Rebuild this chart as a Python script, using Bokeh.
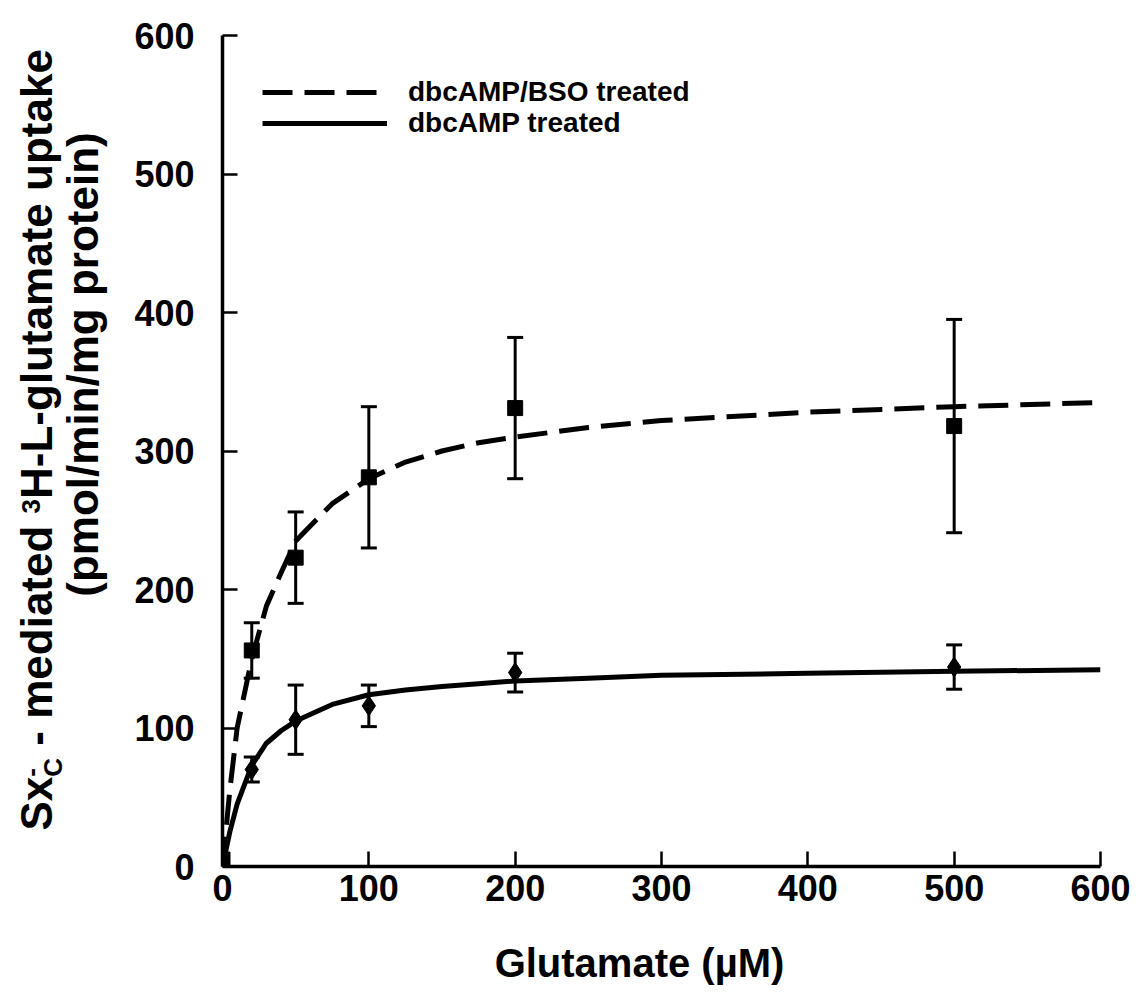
import math
from bokeh.plotting import figure
from bokeh.layouts import row, column
from bokeh.models import (Range1d, ColumnDataSource, Whisker, TeeHead, Label,
                          Legend, LegendItem, FixedTicker)
from bokeh.embed import file_html
from bokeh.resources import INLINE

# ---------------- data ----------------
concentration = [0, 20, 50, 100, 200, 500]            # Glutamate (uM)
bso_uptake = [5, 156, 223, 281, 331, 318]              # dbcAMP/BSO treated
bso_sem = [0, 20, 33, 51, 51, 77]
dbc_uptake = [5, 70, 106, 116, 140, 144]               # dbcAMP treated
dbc_sem = [0, 9, 25, 15, 14, 16]

fit_x = [0, 5, 10, 20, 30, 40, 50, 75, 100, 125, 150, 175, 200, 250, 300, 400, 500, 600]
bso_fit = [0, 55, 100, 150, 188, 212, 235, 262, 280, 292, 300, 306, 310, 317, 322, 328, 332, 335]
dbc_fit = [0, 25, 45, 73, 89, 98, 105, 117, 124, 127.5, 130, 132, 134, 136, 138, 139.5, 141, 142]

x_ticks = [0, 100, 200, 300, 400, 500, 600]
y_ticks = [0, 100, 200, 300, 400, 500, 600]

legend_labels = ["dbcAMP/BSO treated", "dbcAMP treated"]
x_title = "Glutamate (\u00b5M)"
y_title_line2 = "(pmol/min/mg protein)"

# ---------------- layout constants ----------------
W, H = 1143, 992
YLAB_W = 120          # strip holding the y title
XLAB_H = 70           # strip holding the x title
MAIN_W, MAIN_H = W - YLAB_W, H - XLAB_H
FRAME_L, FRAME_R, FRAME_T, FRAME_B = 222, 1100, 35, 866   # canvas pixels
FONT = "Liberation Sans"


def text_strip(w, h, x_lo, x_hi, y_top, y_bottom):
    """A bare figure whose data space equals canvas pixels (y downward)."""
    f = figure(width=w, height=h, x_range=Range1d(x_lo, x_hi),
               y_range=Range1d(y_bottom, y_top), output_backend="svg",
               toolbar_location=None, x_axis_location=None, y_axis_location=None,
               min_border=0, min_border_left=0, min_border_right=0,
               min_border_top=0, min_border_bottom=0)
    f.grid.visible = False
    f.outline_line_color = None
    f.background_fill_color = "white"
    f.border_fill_color = "white"
    return f


# ---------------- main plot ----------------
p = figure(width=MAIN_W, height=MAIN_H, x_range=Range1d(0, 600), y_range=Range1d(0, 600),
           output_backend="svg", toolbar_location=None,
           min_border_left=FRAME_L - YLAB_W, min_border_right=W - FRAME_R,
           min_border_top=FRAME_T, min_border_bottom=MAIN_H - FRAME_B)
p.background_fill_color = "white"
p.border_fill_color = "white"
p.outline_line_color = None
p.grid.visible = False

for ax in (p.xaxis[0], p.yaxis[0]):
    ax.axis_line_width = 3.5
    ax.axis_line_color = "black"
    ax.major_tick_in = 15
    ax.major_tick_out = 0
    ax.major_tick_line_width = 2.5
    ax.major_tick_line_color = "black"
    ax.minor_tick_line_color = None
    ax.major_label_text_font = FONT
    ax.major_label_text_font_style = "bold"
    ax.major_label_text_font_size = "36px"
    ax.major_label_text_color = "black"

p.xaxis.ticker = FixedTicker(ticks=x_ticks)
p.yaxis.ticker = FixedTicker(ticks=y_ticks)
p.xaxis.major_label_standoff = 8
p.yaxis.major_label_standoff = 28

# fitted curves
fit_src = ColumnDataSource(dict(x=fit_x, bso=bso_fit, dbc=dbc_fit))
r_bso = p.line("x", "bso", source=fit_src, line_color="black", line_width=5,
               line_dash="30 12")
r_dbc = p.line("x", "dbc", source=fit_src, line_color="black", line_width=5)


# error bars
def err_source(xs, ys, es):
    xx, lo, hi = [], [], []
    for x, y, e in zip(xs, ys, es):
        if e > 0:
            xx.append(x)
            lo.append(y - e)
            hi.append(y + e)
    return ColumnDataSource(dict(x=xx, lower=lo, upper=hi))


for src in (err_source(concentration, bso_uptake, bso_sem),
            err_source(concentration, dbc_uptake, dbc_sem)):
    p.add_layout(Whisker(base="x", lower="lower", upper="upper", source=src,
                         line_color="black", line_width=3,
                         upper_head=TeeHead(size=16, line_width=3, line_color="black"),
                         lower_head=TeeHead(size=16, line_width=3, line_color="black")))

# markers
pts = ColumnDataSource(dict(x=concentration, bso=bso_uptake, dbc=dbc_uptake))
p.scatter("x", "bso", source=pts, marker="square", size=15,
          fill_color="black", line_color="black")
p.scatter("x", "dbc", source=pts, marker="diamond", size=20,
          fill_color="black", line_color="black")


# legend: one box per entry so the two rows can sit close together
def make_legend(label, renderer, loc):
    return Legend(items=[LegendItem(label=label, renderers=[renderer])],
                  location=loc, glyph_width=125, glyph_height=24,
                  label_height=24, label_standoff=21, spacing=0, padding=0,
                  margin=0, border_line_color=None, background_fill_alpha=0,
                  label_text_font=FONT, label_text_font_style="bold",
                  label_text_font_size="28px", label_text_color="black")


p.add_layout(make_legend(legend_labels[0], r_bso, (40, 758)))
p.add_layout(make_legend(legend_labels[1], r_dbc, (40, 727)))

# ---------------- y title strip ----------------
# its frame is aligned with the main frame (canvas y 35..866)
ylab = text_strip(YLAB_W, MAIN_H, 0, YLAB_W, FRAME_T, FRAME_B)
BIG, SMALL = 44, 26
MID = 0.3465          # baseline -> middle of the text box, in em
ang = math.pi / 2
base1 = 51
start = 830.0
w_sx = 1.223 * BIG
w_c = 0.722 * SMALL
w_sp = 0.278 * BIG
w_med = (0.333 + 0.278 + 4.390) * BIG
w_3 = 0.556 * SMALL
w_rest = 10.223 * BIG
s_c = start - w_sx
s_med = s_c - w_c - w_sp
s_3 = s_med - w_med - w_sp
s_rest = s_3 - w_3
pieces = [("Sx", BIG, base1, start - w_sx / 2),
          ("C", SMALL, base1 + 11, s_c - w_c / 2),
          ("-", SMALL, 40, s_c - 0.333 * SMALL / 2),
          ("- mediated", BIG, base1, s_med - w_med / 2),
          ("3", SMALL, 40, s_3 - w_3 / 2),
          ("H-L-glutamate uptake", BIG, base1, s_rest - w_rest / 2)]
for txt, size, bx, cy in pieces:
    ylab.add_layout(Label(x=bx - MID * size, y=cy, text=txt, angle=ang,
                          text_align="center", text_baseline="middle",
                          text_font=FONT, text_font_style="bold",
                          text_font_size=f"{size}px", text_color="black"))
ylab.add_layout(Label(x=97 - MID * BIG, y=364, text=y_title_line2, angle=ang,
                      text_align="center", text_baseline="middle",
                      text_font=FONT, text_font_style="bold",
                      text_font_size=f"{BIG}px", text_color="black"))

# ---------------- x title strip ----------------
xlab = text_strip(W, XLAB_H, 0, W, MAIN_H, H)
xlab.add_layout(Label(x=639, y=976 - MID * 40, text=x_title, text_align="center",
                      text_baseline="middle", text_font=FONT,
                      text_font_style="bold", text_font_size="40px",
                      text_color="black"))

layout = column(row(ylab, p), xlab)
open("out.html", "w").write(file_html(layout, INLINE))
